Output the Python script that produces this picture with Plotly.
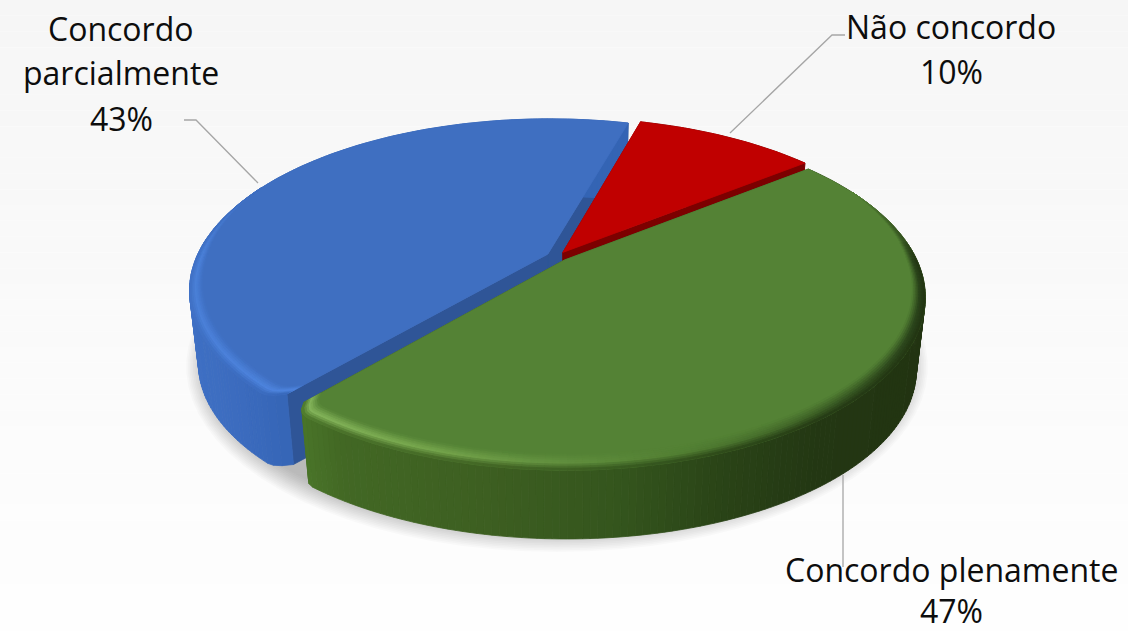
import math
import plotly.graph_objects as go

categories = ["Não concordo", "Concordo plenamente", "Concordo parcialmente"]
values = [10, 47, 43]

W, H = 1128, 631
START = 15.7
CX, CY, A, B, K = 557.0, 256.5, 351.0, 164.5, 0.209
EXPLODE, DEPTH, SCALE = 0.03, 74.0, 0.975

def hex2(c):
    return tuple(int(c[i:i + 2], 16) for i in (1, 3, 5))

def tohex(c):
    return "#%02x%02x%02x" % tuple(int(round(v)) for v in c)

def mix(a, b, t):
    a, b = hex2(a), hex2(b)
    return tohex([a[i] + (b[i] - a[i]) * t for i in range(3)])

def ramp(stops, x):
    if x <= stops[0][0]:
        return stops[0][1]
    for (x0, c0), (x1, c1) in zip(stops, stops[1:]):
        if x <= x1:
            return mix(c0, c1, (x - x0) / (x1 - x0))
    return stops[-1][1]

STYLE = {
    "Não concordo": dict(top="#c00000", wall="#7c0000", side=[(0, "#7c0000")], rim=[(0, "#c00000")]),
    "Concordo plenamente": dict(
        top="#548235", wall="#3b5c25",
        side=[(300, "#4a7529"), (340, "#426824"), (480, "#3d5f21"), (620, "#34551d"),
              (720, "#2a4417"), (820, "#233713"), (930, "#223412")],
        rim=[(300, "#86b65c"), (420, "#78a84e"), (560, "#62913f"), (680, "#527f33"),
             (770, "#456c2b"), (860, "#355421"), (930, "#28401a")]),
    "Concordo parcialmente": dict(
        top="#3f6fc1", wall="#2f5597",
        side=[(190, "#3f70c4"), (240, "#3b6bbe"), (300, "#3464b4")],
        rim=[(190, "#4a80d8"), (300, "#4f86e0")]),
}

polys = []

def add(pts, color):
    polys.append((pts, color))

def point(theta, r, beta):
    t, be = math.radians(theta), math.radians(beta)
    u = r * math.sin(t) + EXPLODE * math.sin(be)
    v = r * math.cos(t) + EXPLODE * math.cos(be)
    w = 1 + K * v
    return (CX + A * u / w, CY - B * v / w)

def lower(p, apex):
    return (apex[0] + SCALE * (p[0] - apex[0]), apex[1] + SCALE * (p[1] - apex[1]) + DEPTH)

# shadow
shadow = []
for i in range(14):
    grow = 24 - i * 1.7
    pts = []
    for d in range(0, 360, 4):
        x, y = point(d, 1.0, 0)
        pts.append((CX + (x - CX) * SCALE * (1 + grow / 360), CY + (y - CY) * SCALE * (1 + grow / 200) + DEPTH + 3))
    shadow.append(pts)

slices = []
ang = START
for name, val in zip(categories, values):
    sweep = 360 * val / sum(values)
    slices.append((name, ang, ang + sweep, ang + sweep / 2))
    ang += sweep

def radius(th, a0, a1):
    """Rounded front corners of the bevelled slab."""
    span = 3.0
    r = 1.0
    for end in (a0, a1):
        if math.cos(math.radians(end)) < -0.3:
            dist = abs(th - end)
            if dist < span:
                r = min(r, 1 - 0.04 * (1 - dist / span) ** 2)
    return r

def draw(name, a0, a1, beta):
    s = STYLE[name]
    apex = point(0, 0, beta)
    n = max(2, int(a1 - a0))
    ths = [a0 + (a1 - a0) * i / n for i in range(n + 1)]
    rim_pt = lambda t, f: point(t, radius(t, a0, a1) * f, beta)
    # inner cut walls
    for th in (a1, a0):
        p = rim_pt(th, 1)
        add([apex, p, lower(p, apex), lower(apex, apex)], s["wall"])
    # outer side wall, back to front
    segs = sorted(zip(ths, ths[1:]), key=lambda q: -math.cos(math.radians((q[0] + q[1]) / 2)))
    for t0, t1 in segs:
        p0, p1 = rim_pt(t0, 1), rim_pt(t1, 1)
        add([p0, p1, lower(p1, apex), lower(p0, apex)], ramp(s["side"], (p0[0] + p1[0]) / 2))
    # top face
    add([apex] + [rim_pt(t, 1) for t in ths], s["top"])
    if name == "Não concordo":
        return
    # bevelled rim: top colour -> highlight -> side colour
    steps = [i / 8 for i in range(9)]
    for j in range(8):
        f = (steps[j] + steps[j + 1]) / 2
        for t0, t1 in zip(ths, ths[1:]):
            tm = math.radians((t0 + t1) / 2)
            c = math.cos(tm)
            weight = min(1, max(0, (0.45 - c) / 0.45))
            if weight <= 0:
                continue
            width = (0.028 + 0.034 * max(0, -c)) * weight
            fr = lambda q: 1 - width * (1 - q)
            p = [rim_pt(t0, fr(steps[j])), rim_pt(t1, fr(steps[j])),
                 rim_pt(t1, fr(steps[j + 1])), rim_pt(t0, fr(steps[j + 1]))]
            xm = (p[0][0] + p[1][0]) / 2
            rc, sc = ramp(s["rim"], xm), ramp(s["side"], xm)
            col = mix(s["top"], rc, f / 0.55) if f < 0.55 else mix(rc, sc, (f - 0.55) / 0.45)
            add(p, mix(s["top"], col, weight))

order = {"Concordo parcialmente": 0, "Não concordo": 1, "Concordo plenamente": 2}
for sl in sorted(slices, key=lambda q: order[q[0]]):
    draw(*sl)

fig = go.Figure()

for pts in shadow:
    fig.add_trace(go.Scatter(x=[p[0] for p in pts] + [pts[0][0]], y=[p[1] for p in pts] + [pts[0][1]],
                             mode="lines", fill="toself", fillcolor="rgba(0,0,0,0.02)",
                             line=dict(width=0), hoverinfo="skip", showlegend=False))

# merge consecutive same-coloured polygons into one trace
merged = []
for pts, col in polys:
    if merged and merged[-1][1] == col:
        merged[-1][0].append(pts)
    else:
        merged.append([[pts], col])
for group, col in merged:
    xs, ys = [], []
    for pts in group:
        xs += [p[0] for p in pts] + [pts[0][0], None]
        ys += [p[1] for p in pts] + [pts[0][1], None]
    fig.add_trace(go.Scatter(x=xs, y=ys, mode="lines", fill="toself", fillcolor=col,
                             line=dict(color=col, width=0.8), hoverinfo="skip", showlegend=False))

# leader lines
leaders = [([730, 832, 845], [133, 35, 35]),
           ([843, 843], [475, 567]),
           ([258, 196, 184], [183, 120, 120])]
for lx, ly in leaders:
    fig.add_trace(go.Scatter(x=lx, y=ly, mode="lines", line=dict(color="#a6a6a6", width=1.3),
                             hoverinfo="skip", showlegend=False))

# labels
label_pos = {"Não concordo": (951, [26, 71]),
             "Concordo plenamente": (951, [569, 610]),
             "Concordo parcialmente": (121, [28, 72, 118])}
annotations = []
for name, val in zip(categories, values):
    x0, ys = label_pos[name]
    lines = name.split(" ") if len(ys) == 3 else [name]
    lines = lines + [f"{val}%"]
    for txt, y in zip(lines, ys):
        annotations.append(dict(x=x0, y=y, text=txt, showarrow=False, xanchor="center", yanchor="middle",
                                font=dict(family="Open Sans", size=32, color="#0d0d0d")))

bg = []
N = 40
for i in range(N):
    bg.append(dict(type="rect", layer="below", xref="x", yref="y", x0=0, x1=W, y0=H * i / N, y1=H * (i + 1) / N,
                   line=dict(width=0), fillcolor=mix("#f6f6f6", "#fefefe", i / (N - 1))))

fig.update_layout(width=W, height=H, margin=dict(l=0, r=0, t=0, b=0), paper_bgcolor="#ffffff",
                  plot_bgcolor="#ffffff", showlegend=False, shapes=bg, annotations=annotations,
                  xaxis=dict(range=[0, W], visible=False, fixedrange=True),
                  yaxis=dict(range=[H, 0], visible=False, fixedrange=True))
fig.write_html("out.html", config=dict(displayModeBar=False),
               post_script="document.body.style.margin='0';document.body.style.overflow='hidden';")
